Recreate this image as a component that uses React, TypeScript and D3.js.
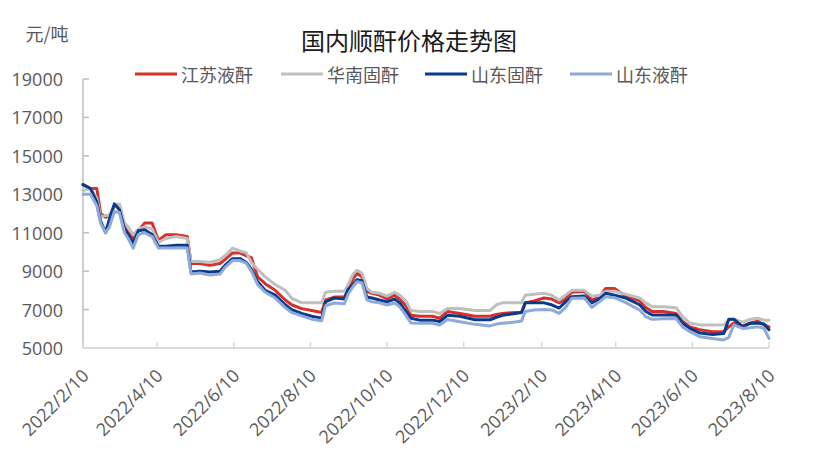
import React from "react";
import * as d3 from "d3";

const title = "国内顺酐价格走势图";
const unitLabel = "元/吨";
const seriesNames = ["江苏液酐", "华南固酐", "山东固酐", "山东液酐"];
const seriesColors = ["#d6302a", "#bfbfbf", "#0a3a8c", "#8eaad8"];
const yTicks = [5000, 7000, 9000, 11000, 13000, 15000, 17000, 19000];
const xTickLabels = ["2022/2/10", "2022/4/10", "2022/6/10", "2022/8/10", "2022/10/10", "2022/12/10", "2023/2/10", "2023/4/10", "2023/6/10", "2023/8/10"];

const dates = [
  "2022-02-10","2022-02-16","2022-02-21","2022-02-24","2022-02-28","2022-03-03","2022-03-07","2022-03-11","2022-03-15","2022-03-18",
  "2022-03-22","2022-03-26","2022-03-31","2022-04-06","2022-04-11","2022-04-17","2022-04-25","2022-05-04","2022-05-07","2022-05-14",
  "2022-05-22","2022-05-30","2022-06-03","2022-06-09","2022-06-15","2022-06-20","2022-06-24","2022-06-29","2022-07-05","2022-07-13",
  "2022-07-21","2022-07-26","2022-08-03","2022-08-11","2022-08-19","2022-08-22","2022-08-29","2022-09-06","2022-09-09","2022-09-13",
  "2022-09-16","2022-09-20","2022-09-24","2022-09-28","2022-10-04","2022-10-10","2022-10-16","2022-10-20","2022-10-25","2022-10-29",
  "2022-11-05","2022-11-15","2022-11-21","2022-11-27","2022-12-07","2022-12-19","2022-12-31","2023-01-05","2023-01-10","2023-01-20",
  "2023-01-25","2023-01-28","2023-02-04","2023-02-12","2023-02-18","2023-02-24","2023-03-01","2023-03-06","2023-03-16","2023-03-22",
  "2023-03-28","2023-04-02","2023-04-09","2023-04-18","2023-04-29","2023-05-04","2023-05-09","2023-05-18","2023-05-28","2023-06-02",
  "2023-06-08","2023-06-16","2023-06-26","2023-07-05","2023-07-09","2023-07-13","2023-07-20","2023-07-26","2023-08-01","2023-08-06",
  "2023-08-10"
];

const jiangsuLiquid = [
  13500,13300,13300,12000,11800,11900,12400,12400,11300,11000,
  10700,11100,11500,11500,10600,10900,10900,10800,9400,9400,
  9300,9400,9600,9950,9950,9800,9700,8700,8350,8000,
  7500,7250,7050,6950,6850,7500,7650,7650,8000,8600,
  8900,8700,7950,7850,7750,7550,7750,7550,7200,6700,
  6650,6650,6550,6900,6800,6650,6650,6750,6800,6850,
  6850,7350,7450,7600,7550,7350,7550,7900,7950,7500,
  7650,8100,8100,7700,7450,7100,6900,6900,6800,6400,
  6100,5950,5850,5850,6100,6300,6150,6300,6400,6200,
  6100
];

const southChinaSolid = [
  13200,13300,12800,11800,11900,11900,12450,12500,11500,11300,
  10900,11200,11300,11200,10500,10700,10800,10700,9500,9500,
  9450,9600,9800,10200,10050,9950,9450,9100,8700,8300,
  8000,7600,7350,7350,7350,7900,7950,7950,8300,8850,
  9050,8900,8100,7900,7850,7700,7900,7750,7450,6950,
  6900,6900,6800,7050,7050,6950,6950,7250,7350,7350,
  7350,7750,7800,7850,7750,7500,7750,8000,8000,7700,
  7750,7950,7950,7800,7600,7350,7150,7150,7100,6650,
  6300,6200,6200,6200,6450,6500,6350,6500,6550,6450,
  6450
];

const shandongSolid = [
  13500,13300,12600,11600,11000,11700,12500,12200,11200,10900,
  10450,11100,11150,10900,10300,10300,10350,10350,8950,9000,
  8950,9000,9300,9650,9650,9450,9100,8450,8000,7750,
  7250,7000,6800,6650,6550,7400,7600,7550,8050,8300,
  8550,8500,7650,7600,7500,7400,7550,7350,6900,6550,
  6450,6450,6380,6700,6650,6470,6470,6600,6700,6800,
  6850,7350,7350,7350,7250,7080,7400,7670,7700,7350,
  7550,7850,7750,7600,7250,6900,6720,6720,6720,6300,
  6020,5780,5700,5750,6500,6500,6100,6280,6300,6250,
  5950
];

const shandongLiquid = [
  13000,13000,12400,11500,11000,11300,12100,12050,11000,10700,
  10200,10900,11000,10800,10200,10200,10200,10200,8850,8900,
  8800,8850,9200,9550,9550,9400,9000,8300,7900,7600,
  7100,6850,6670,6500,6420,7200,7340,7300,7800,8200,
  8450,8400,7500,7400,7350,7240,7340,7150,6700,6300,
  6290,6290,6200,6480,6370,6230,6150,6250,6290,6350,
  6400,6900,6980,7000,6980,6800,7100,7590,7600,7120,
  7400,7670,7620,7360,6980,6630,6490,6520,6540,6110,
  5850,5590,5500,5420,5550,6200,6020,6050,6100,6020,
  5500
];

const seriesValues = [jiangsuLiquid, southChinaSolid, shandongSolid, shandongLiquid];

const parseDash = (s: string) => {
  const [y, m, d] = s.split("-").map(Number);
  return new Date(y, m - 1, d);
};
const parseSlash = (s: string) => {
  const [y, m, d] = s.split("/").map(Number);
  return new Date(y, m - 1, d);
};

const W = 816;
const H = 460;
const left = 83;
const right = 769;
const top = 79;
const bottom = 348;
const font = "'Open Sans', 'Noto Sans CJK SC', sans-serif";
const cjkFont = "'Noto Sans CJK SC', 'Open Sans', sans-serif";

export default function App() {
  const x = d3
    .scaleTime()
    .domain([parseSlash(xTickLabels[0]), parseSlash(xTickLabels[xTickLabels.length - 1])])
    .range([left, right]);
  const y = d3.scaleLinear().domain([5000, 19000]).range([bottom, top]);
  const parsedDates = dates.map(parseDash);

  const lineGen = d3
    .line<number>()
    .x((_, i) => x(parsedDates[i]))
    .y((v) => y(v))
    .curve(d3.curveLinear);

  const legendItems = [
    { lx: 135, tx: 181 },
    { lx: 281, tx: 327 },
    { lx: 425, tx: 471 },
    { lx: 570, tx: 616 },
  ];

  return (
    <svg width={W} height={H} style={{ position: "absolute", left: 0, top: 0, background: "#fff" }}>
      <rect x={0} y={0} width={W} height={H} fill="#fff" />
      <text x={409} y={39} textAnchor="middle" dominantBaseline="central" fontFamily={cjkFont} fontSize={24} fill="#1a1a1a">
        {title}
      </text>
      <text x={47} y={33} textAnchor="middle" dominantBaseline="central" fontFamily={cjkFont} fontSize={18} fill="#595959">
        {unitLabel}
      </text>

      {legendItems.map((it, i) => (
        <g key={seriesNames[i]}>
          <line x1={it.lx} x2={it.lx + 42} y1={74} y2={74} stroke={seriesColors[i]} strokeWidth={3} />
          <text x={it.tx} y={74} dominantBaseline="central" fontFamily={cjkFont} fontSize={18} fill="#595959">
            {seriesNames[i]}
          </text>
        </g>
      ))}

      {/* y axis */}
      <line x1={left} x2={left} y1={top} y2={bottom} stroke="#bfbfbf" strokeWidth={1.5} />
      {yTicks.map((t) => (
        <g key={t}>
          <line x1={left} x2={left + 6} y1={y(t)} y2={y(t)} stroke="#bfbfbf" strokeWidth={1.5} />
          <text x={63} y={y(t)} textAnchor="end" dominantBaseline="central" fontFamily={font} fontSize={18} fill="#595959">
            {t}
          </text>
        </g>
      ))}

      {/* x axis */}
      <line x1={left} x2={right} y1={bottom} y2={bottom} stroke="#d9d9d9" strokeWidth={2} />
      {xTickLabels.map((lab) => {
        const px = x(parseSlash(lab));
        return (
          <g key={lab}>
            <line x1={px} x2={px} y1={bottom} y2={bottom - 6} stroke="#d9d9d9" strokeWidth={1.5} />
            <text
              transform={`translate(${px + 2},${bottom + 24}) rotate(-45)`}
              textAnchor="end"
              dominantBaseline="central"
              fontFamily={font}
              fontSize={18}
              fill="#595959"
            >
              {lab}
            </text>
          </g>
        );
      })}

      {seriesValues.map((vals, i) => (
        <path
          key={seriesNames[i]}
          d={lineGen(vals) || ""}
          fill="none"
          stroke={seriesColors[i]}
          strokeWidth={3}
          strokeLinejoin="round"
          strokeLinecap="round"
        />
      ))}
    </svg>
  );
}
